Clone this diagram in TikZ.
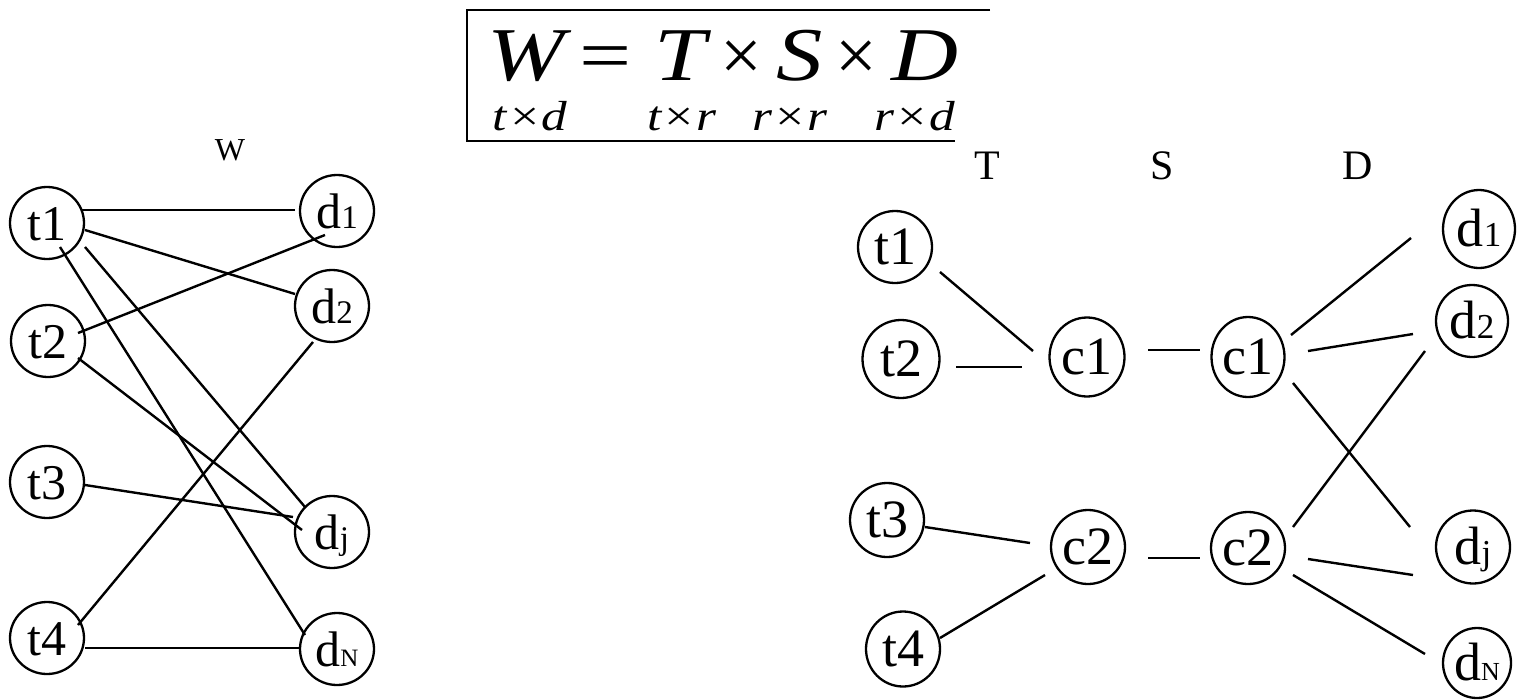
\documentclass[tikz,border=0pt]{standalone}
\usepackage{fontspec}
\setmainfont{Liberation Serif}
\usetikzlibrary{shapes.geometric,calc}

\newcommand\fsz[1]{\fontsize{#1}{#1}\selectfont}
\newcommand\lowidx[2]{{\fsz{#1}#2}}
\newcommand\wide[2]{\scalebox{#1}[1]{#2}}

\begin{document}
\begin{tikzpicture}[x=1pt,y=-1pt]
\tikzset{
  vtx/.style 2 args={draw, ellipse, line width=2.3pt, inner sep=0pt,
    minimum width=#1, minimum height=#2, text height=34pt, text depth=0pt},
  lv/.style={vtx={74pt}{72pt}, font=\fsz{50}},
  rv/.style 2 args={vtx={#1}{#2}, font=\fsz{54}},
  lnk/.style={line width=2.4pt},
  hdr/.style={anchor=base, font=\fsz{42}},
  big/.style={anchor=base, inner sep=0pt, text depth=0pt, font=\fsz{76}\itshape},
  bigop/.style={anchor=base, inner sep=0pt, text depth=0pt, font=\fsz{74}},
  dim/.style={anchor=base, inner sep=0pt, text height=26pt, font=\fsz{42}\itshape},
}
\useasboundingbox (0,0) rectangle (1518,699);

% ---------- formula frame ----------
\draw[line width=2.8pt] (990,10) -- (467,10) -- (467,141) -- (955,141);
\node[big]   (fW)  at (526,80) {\wide{1.22}{W}};
\node[bigop] (feq) at (606,80) {\wide{1.25}{=}};
\node[big]   (fT)  at (680,80) {\wide{1.22}{T}};
\node[bigop] (fx1) at (741,80) {×};
\node[big]   (fS)  at (800,80) {\wide{1.22}{S}};
\node[bigop] (fx2) at (856,80) {×};
\node[big]   (fD)  at (925,80) {\wide{1.22}{D}};
\node[dim] (sW) at (530,130) {\wide{1.22}{t×d}};
\node[dim] (sT) at (682,130) {\wide{1.22}{t×r}};
\node[dim] (sS) at (790,130) {\wide{1.22}{r×r}};
\node[dim] (sD) at (915,130) {\wide{1.22}{r×d}};

% ---------- bipartite graph W ----------
\node[anchor=base, font=\fsz{32}] (labW) at (230,160) {W};
\node[lv] (Lt1) at (47,223) {t1};
\node[lv] (Lt2) at (48,341) {t2};
\node[lv] (Lt3) at (47,482) {t3};
\node[lv] (Lt4) at (47,638) {t4};
\node[lv] (Ld1) at (337,211) {d\lowidx{33}{1}};
\node[lv] (Ld2) at (332,306) {d\lowidx{33}{2}};
\node[lv] (Ldj) at (332,532) {d\lowidx{33}{j}};
\node[lv] (LdN) at (337,649) {d\lowidx{25}{N}};

\draw[lnk] ($(Lt1)+(35,-13)$) -- ($(Ld1)+(-42,-1)$);
\draw[lnk] ($(Lt1)+(38,7)$)   -- ($(Ld2)+(-37,-12)$);
\draw[lnk] ($(Lt1)+(13,24)$)  -- ($(LdN)+(-32,-14)$);
\draw[lnk] ($(Lt1)+(38,24)$)  -- ($(Ldj)+(-27,-25)$);
\draw[lnk] ($(Lt2)+(30,-8)$)  -- ($(Ld1)+(-12,24)$);
\draw[lnk] ($(Lt2)+(30,17)$)  -- ($(Ldj)+(-30,-2)$);
\draw[lnk] ($(Lt3)+(38,3)$)   -- ($(Ldj)+(-39,-15)$);
\draw[lnk] ($(Lt4)+(31,-13)$) -- ($(Ld2)+(-19,36)$);
\draw[lnk] ($(Lt4)+(38,10)$)  -- ($(LdN)+(-37,-1)$);

% ---------- factorised graph T S D ----------
\node[hdr] (labT) at (987,179)  {T};
\node[hdr] (labS) at (1162,179) {S};
\node[hdr] (labD) at (1358,179) {D};

\node[rv={74pt}{72pt}] (Rt1) at (895,247) {t1};
\node[rv={77pt}{78pt}] (Rt2) at (901,359) {t2};
\node[rv={74pt}{74pt}] (Rt3) at (887,520) {t3};
\node[rv={74pt}{75pt}] (Rt4) at (903,649) {t4};
\node[rv={75pt}{79pt}] (Rc1) at (1087,357) {c1};
\node[rv={74pt}{74pt}] (Rc2) at (1088,547) {c2};
\node[rv={73pt}{80pt}] (Sc1) at (1248,357) {c1};
\node[rv={74pt}{72pt}] (Sc2) at (1248,548) {c2};
\node[rv={72pt}{78pt}] (Rd1) at (1479,229) {d\lowidx{35}{1}};
\node[rv={72pt}{72pt}] (Rd2) at (1472,321) {d\lowidx{35}{2}};
\node[rv={74pt}{73pt}] (Rdj) at (1473,547) {d\lowidx{35}{j}};
\node[rv={68pt}{70pt}] (RdN) at (1477,663) {d\lowidx{26}{N}};

\draw[lnk] ($(Rt1)+(45,25)$)  -- ($(Rc1)+(-54,-6)$);
\draw[lnk] ($(Rt2)+(55,8)$)   -- ($(Rc1)+(-65,10)$);
\draw[lnk] ($(Rt3)+(38,7)$)   -- ($(Rc2)+(-58,-4)$);
\draw[lnk] ($(Rt4)+(37,-11)$) -- ($(Rc2)+(-43,28)$);
\draw[lnk] ($(Rc1)+(61,-7)$)  -- ($(Sc1)+(-48,-7)$);
\draw[lnk] ($(Rc2)+(60,11)$)  -- ($(Sc2)+(-48,10)$);
\draw[lnk] ($(Sc1)+(43,-22)$) -- ($(Rd1)+(-68,9)$);
\draw[lnk] ($(Sc1)+(60,-6)$)  -- ($(Rd2)+(-59,13)$);
\draw[lnk] ($(Sc1)+(45,26)$)  -- ($(Rdj)+(-63,-20)$);
\draw[lnk] ($(Sc2)+(45,-21)$) -- ($(Rd2)+(-47,30)$);
\draw[lnk] ($(Sc2)+(60,11)$)  -- ($(Rdj)+(-60,28)$);
\draw[lnk] ($(Sc2)+(45,27)$)  -- ($(RdN)+(-52,-9)$);
\end{tikzpicture}
\end{document}
